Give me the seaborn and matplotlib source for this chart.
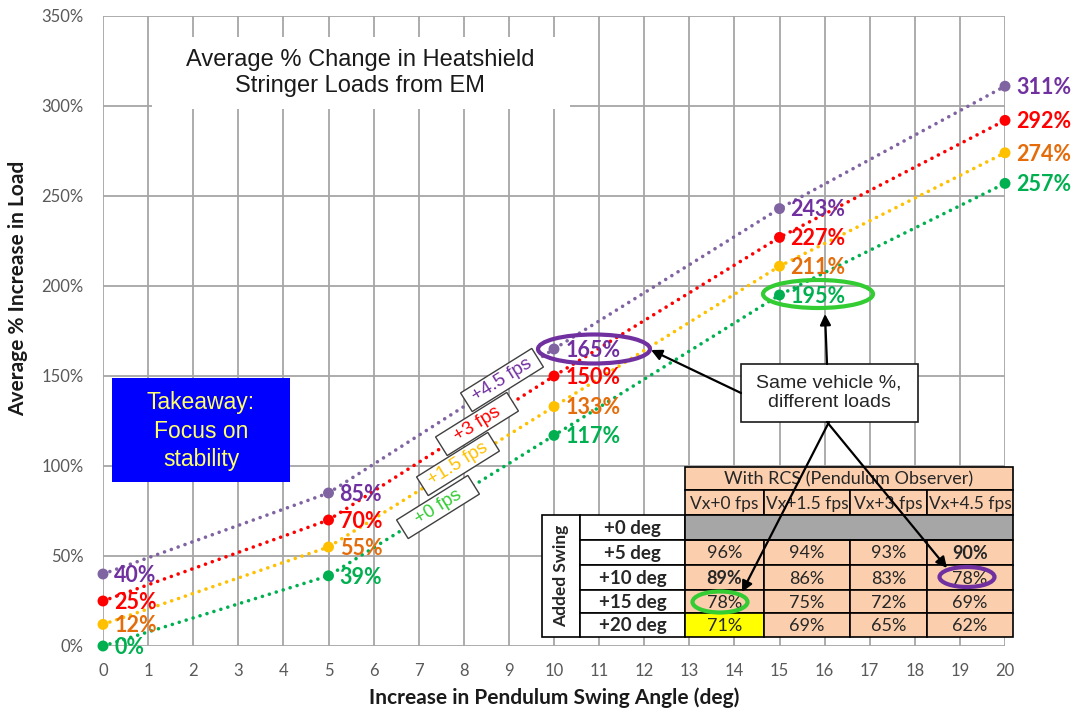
import numpy as np
import pandas as pd
import matplotlib
matplotlib.use('Agg')
import matplotlib.pyplot as plt
from matplotlib.patches import Rectangle, Ellipse
import seaborn as sns

# ---------------- data ----------------
angles = [0, 5, 10, 15, 20]
series_names = ['+4.5 fps', '+3 fps', '+1.5 fps', '+0 fps']
load_45 = [40, 85, 165, 243, 311]
load_3 = [25, 70, 150, 227, 292]
load_15 = [12, 55, 133, 211, 274]
load_0 = [0, 39, 117, 195, 257]

x_ticks = list(range(0, 21))
y_ticks = [0, 50, 100, 150, 200, 250, 300, 350]

title_text = 'Average % Change in Heatshield\nStringer Loads from EM'
takeaway_text = 'Takeaway:\nFocus on\nstability'
callout_text = 'Same vehicle %,\ndifferent loads'

table_title = 'With RCS (Pendulum Observer)'
table_side = 'Added Swing'
table_cols = ['Vx+0 fps', 'Vx+1.5 fps', 'Vx+3 fps', 'Vx+4.5 fps']
table_rows = ['+0 deg', '+5 deg', '+10 deg', '+15 deg', '+20 deg']
table_vals = [[None, None, None, None],
              [96, 94, 93, 90],
              [89, 86, 83, 78],
              [78, 75, 72, 69],
              [71, 69, 65, 62]]
bold_cells = [(1, 3), (2, 0)]

# ---------------- style ----------------
sns.set_style('white')
plt.rcParams['font.family'] = ['Lato', 'DejaVu Sans']

W, H = 1076, 717
fig = plt.figure(figsize=(W / 100, H / 100), dpi=100)
ax = fig.add_axes([103 / W, 1 - 646 / H, (1005 - 103) / W, (646 - 16) / H])

df = pd.DataFrame({
    'angle': angles * 4,
    'load': load_45 + load_3 + load_15 + load_0,
    'series': np.repeat(series_names, len(angles)),
})
line_colors = {'+4.5 fps': '#8064A2', '+3 fps': '#FF0000',
               '+1.5 fps': '#FFC000', '+0 fps': '#00B050'}
text_colors = {'+4.5 fps': '#7030A0', '+3 fps': '#FF0000',
               '+1.5 fps': '#E46C0A', '+0 fps': '#00B050'}
tag_colors = {'+4.5 fps': '#7030A0', '+3 fps': '#FF0000',
              '+1.5 fps': '#FFC000', '+0 fps': '#33CC33'}

sns.lineplot(data=df, x='angle', y='load', hue='series', palette=line_colors,
             legend=False, ax=ax, lw=2.6, zorder=3)
for ln in ax.lines:
    ln.set_linestyle((0, (0.01, 2.0)))
    ln.set_dash_capstyle('round')
sns.scatterplot(data=df, x='angle', y='load', hue='series', palette=line_colors,
                legend=False, ax=ax, s=62, linewidth=0, zorder=4, clip_on=False)

for name, vals in zip(series_names, [load_45, load_3, load_15, load_0]):
    for a, v in zip(angles, vals):
        ax.annotate(f'{v}%', (a, v), xytext=(8, -1), textcoords='offset points',
                    ha='left', va='center', color=text_colors[name],
                    fontsize=15.5, fontweight='bold', zorder=5, annotation_clip=False)

ax.set_xlim(0, 20)
ax.set_ylim(0, 350)
ax.set_xticks(x_ticks)
ax.set_yticks(y_ticks)
ax.set_yticklabels([f'{t}%' for t in y_ticks])
ax.grid(True, color='#A6A6A6', lw=1.3)
ax.set_axisbelow(True)
for s in ax.spines.values():
    s.set_visible(False)
ax.tick_params(axis='both', length=0, labelsize=12, labelcolor='#595959')
ax.tick_params(axis='x', pad=12)
ax.tick_params(axis='y', pad=14)
ax.set_xlabel('Increase in Pendulum Swing Angle (deg)', fontsize=15,
              fontweight='bold', color='#1a1a1a')
ax.set_ylabel('Average % Increase in Load', fontsize=15,
              fontweight='bold', color='#1a1a1a')
ax.xaxis.set_label_coords(0.5, -0.066)
ax.yaxis.set_label_coords(-0.083, 0.567)

# ---------------- overlay (pixel coordinates) ----------------
ov = fig.add_axes([0, 0, 1, 1], zorder=10)
ov.set_xlim(0, W)
ov.set_ylim(H, 0)
ov.axis('off')
ov.patch.set_visible(False)

arial = 'Liberation Sans'

# title box
ov.add_patch(Rectangle((152, 37), 418, 72, fc='white', ec='none', zorder=1))
ov.text(360, 73, title_text, ha='center', va='center', fontsize=17,
        family=arial, color='#1a1a1a', linespacing=1.25, zorder=2)

# takeaway box
ov.add_patch(Rectangle((112, 378), 178, 104, fc='#0000FF', ec='none', zorder=1))
ov.text(201, 431, takeaway_text, ha='center', va='center', fontsize=16.5,
        family=arial, color='#FFFF66', linespacing=1.3, zorder=2)

# series tags
tag_pos = {'+4.5 fps': (502, 380), '+3 fps': (477, 424),
           '+1.5 fps': (458, 464), '+0 fps': (438, 507)}
for name in series_names:
    cx, cy = tag_pos[name]
    ov.add_patch(Rectangle((cx - 42, cy - 11), 84, 22, angle=-32,
                           rotation_point='center', fc='white', ec='#404040',
                           lw=1, zorder=3))
    ov.text(cx, cy, name, rotation=32, rotation_mode='anchor', ha='center',
            va='center', color=tag_colors[name], fontsize=13.5, family=arial,
            zorder=4)

# ellipses around labels
ov.add_patch(Ellipse((594, 349), 112, 29, fill=False, ec='#7030A0', lw=3, zorder=3))
ov.add_patch(Ellipse((818, 294), 110, 28, fill=False, ec='#33CC33', lw=3, zorder=3))

# ---------------- table ----------------
peach = '#FBCFAE'
col_edges = [685, 764, 850, 927, 1013]
row_edges = [515, 540, 565, 590, 613, 637]
hdr_top, hdr_mid = 467, 490
side_l, lab_l = 542, 580
tfs = 12.5

ov.add_patch(Rectangle((side_l, row_edges[0]), col_edges[-1] - side_l,
                       row_edges[-1] - row_edges[0], fc='white', ec='none', zorder=5))
# header
ov.add_patch(Rectangle((col_edges[0], hdr_top), col_edges[-1] - col_edges[0],
                       hdr_mid - hdr_top, fc=peach, ec='black', lw=1.2, zorder=6))
ov.text((col_edges[0] + col_edges[-1]) / 2, (hdr_top + hdr_mid) / 2 + 1, table_title,
        ha='center', va='center', fontsize=tfs + 0.5, color='#262626', zorder=7)
for j, c in enumerate(table_cols):
    x0, x1 = col_edges[j], col_edges[j + 1]
    ov.add_patch(Rectangle((x0, hdr_mid), x1 - x0, row_edges[0] - hdr_mid,
                           fc=peach, ec='black', lw=1.2, zorder=6))
    ov.text((x0 + x1) / 2, (hdr_mid + row_edges[0]) / 2 + 1, c, ha='center',
            va='center', fontsize=tfs, color='#262626', zorder=7)
# side label
ov.add_patch(Rectangle((side_l, row_edges[0]), lab_l - side_l,
                       row_edges[-1] - row_edges[0], fc='white', ec='black',
                       lw=1.2, zorder=6))
ov.text((side_l + lab_l) / 2, (row_edges[0] + row_edges[-1]) / 2, table_side,
        rotation=90, ha='center', va='center', fontsize=tfs, fontweight='bold',
        color='#262626', zorder=7)
for i, r in enumerate(table_rows):
    y0, y1 = row_edges[i], row_edges[i + 1]
    ov.add_patch(Rectangle((lab_l, y0), col_edges[0] - lab_l, y1 - y0,
                           fc='white', ec='black', lw=1.2, zorder=6))
    ov.text((lab_l + col_edges[0]) / 2, (y0 + y1) / 2 + 1, r, ha='center',
            va='center', fontsize=tfs + 1, fontweight='bold', color='#262626',
            zorder=7)
    for j in range(len(table_cols)):
        x0, x1 = col_edges[j], col_edges[j + 1]
        v = table_vals[i][j]
        if v is None:
            ov.add_patch(Rectangle((x0, y0), x1 - x0, y1 - y0, fc='#A6A6A6',
                                   ec='none', zorder=6))
            continue
        fc = '#FFFF00' if (i == len(table_rows) - 1 and j == 0) else peach
        ov.add_patch(Rectangle((x0, y0), x1 - x0, y1 - y0, fc=fc, ec='black',
                               lw=1.2, zorder=6))
        ov.text((x0 + x1) / 2, (y0 + y1) / 2 + 1, f'{v}%', ha='center',
                va='center', fontsize=tfs + 0.5, color='#262626',
                fontweight='bold' if (i, j) in bold_cells else 'normal', zorder=7)
# gray row outline
ov.add_patch(Rectangle((col_edges[0], row_edges[0]), col_edges[-1] - col_edges[0],
                       row_edges[1] - row_edges[0], fill=False, ec='black',
                       lw=1.2, zorder=6.5))

# table ellipses
ov.add_patch(Ellipse((720, 602), 55, 21, fill=False, ec='#33CC33', lw=3, zorder=8))
ov.add_patch(Ellipse((967, 577), 55, 20, fill=False, ec='#7030A0', lw=3, zorder=8))

# callout box and arrows
ov.add_patch(Rectangle((741, 364), 177, 58, fc='white', ec='#1a1a1a', lw=1.2, zorder=9))
ov.text(829, 393, callout_text, ha='center', va='center', fontsize=14,
        family=arial, color='#262626', linespacing=1.2, zorder=10)
arrow_kw = dict(arrowstyle='-|>', color='black', lw=1.6, mutation_scale=16,
                shrinkA=0, shrinkB=0)
for tip, tail in [((651, 350), (741, 393)), ((825, 314), (827, 364)),
                  ((742, 592), (829, 422)), ((947, 568), (827, 422))]:
    ov.annotate('', xy=tip, xytext=tail, arrowprops=arrow_kw, zorder=11)

fig.savefig('out.png', dpi=100)
